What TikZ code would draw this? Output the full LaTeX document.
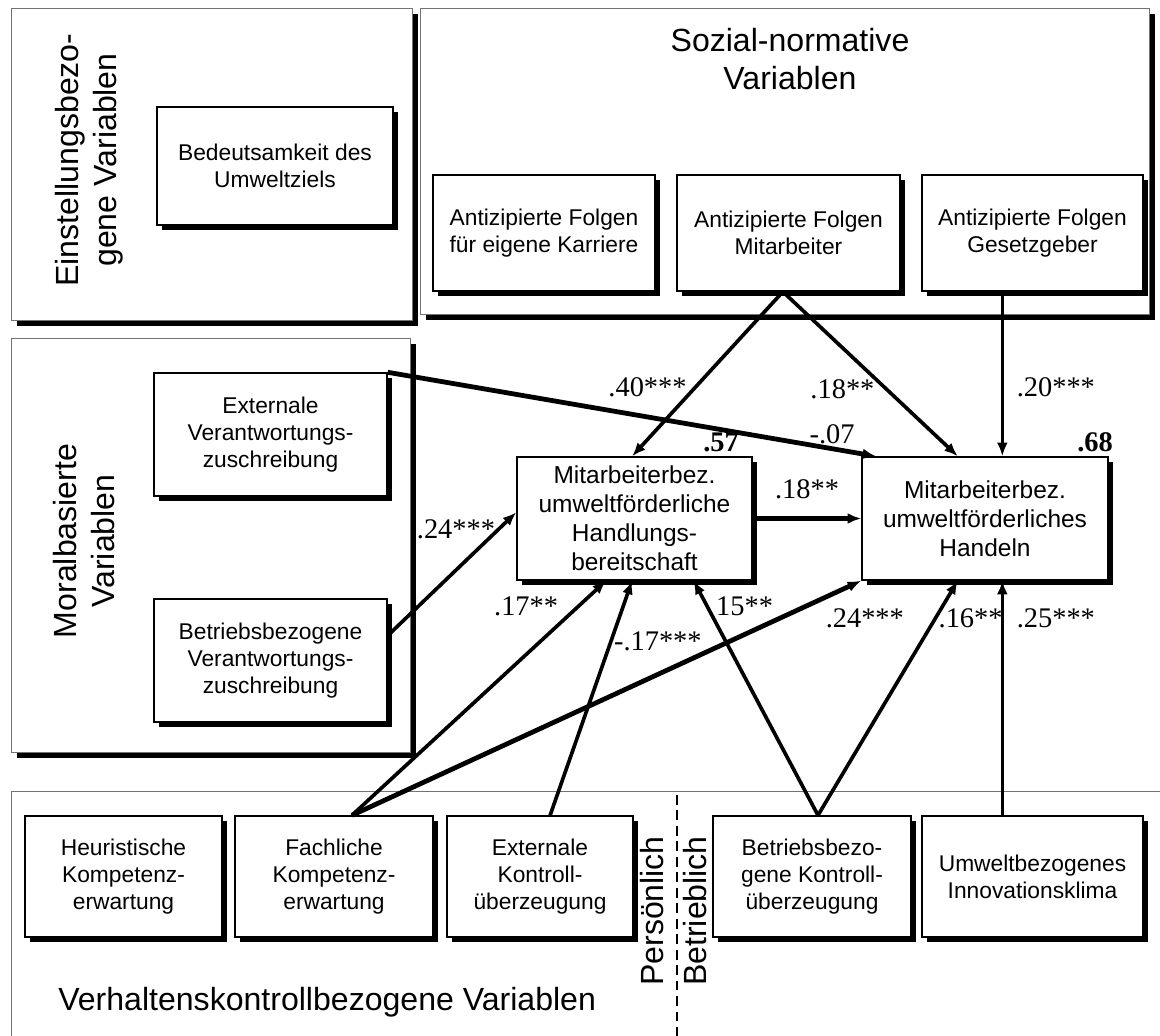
\documentclass[tikz,border=0pt]{standalone}
\usepackage{fontspec}
\setmainfont{Liberation Sans}
\newfontfamily\coeffont{Liberation Serif}
\usepackage{tikz}
\usetikzlibrary{arrows.meta, positioning, calc, shadows}

\begin{document}
\begin{tikzpicture}[
    x=0.025cm, y=-0.025cm,
    >=Latex,
    varframe/.style={
        draw=black!55, line width=0.7pt, fill=white,
        drop shadow={shadow xshift=1.4mm, shadow yshift=-1.4mm, fill=black, opacity=1}
    },
    grplabel/.style={
        font=\fontsize{22.8}{27}\selectfont, align=center, inner sep=0pt
    },
    var/.style={
        draw, line width=1pt, fill=white, inner sep=0pt, align=center,
        font=\fontsize{16.2}{19}\selectfont,
        drop shadow={shadow xshift=1.2mm, shadow yshift=-1.2mm, fill=black, opacity=1}
    },
    outcome/.style={
        var, minimum height=3.075cm,
        font=\fontsize{17.4}{20.6}\selectfont
    },
    effect/.style={
        line width=2.6pt,
        -{Latex[length=3.4mm,width=2.7mm]}
    },
    thickeffect/.style={effect, line width=3.4pt},
    coef/.style={font=\coeffont\fontsize{20.2}{22}\selectfont, inner sep=1pt},
    rsq/.style={font=\coeffont\bfseries\fontsize{20.2}{22}\selectfont, inner sep=1pt}
]

\useasboundingbox (0,0) rectangle (1160,1036);
\clip (0,0) rectangle (1160,1036);

% Variable groups
\draw[varframe] (11,8) rectangle (412,320);
\draw[varframe] (420,8) rectangle (1149,314);
\draw[varframe] (11,338) rectangle (410,752);
\draw[varframe] (11,791) rectangle (1200,1100);

\node[grplabel, rotate=90] (einstlbl) at (89,160) {Einstellungsbezo-\\gene Variablen};
\node[grplabel] (soziallbl) at (790,59) {Sozial-normative\\Variablen};
\node[grplabel, rotate=90] (morallbl) at (84,541) {Moralbasierte\\Variablen};
\node[grplabel, anchor=base west] (verhlbl) at (58,1010) {Verhaltenskontrollbezogene Variablen};
\node[grplabel, rotate=90] (perslbl) at (652,911) {Persönlich};
\node[grplabel, rotate=90] (betrlbl) at (695,911) {Betrieblich};
\draw[dash pattern=on 7pt off 4pt, line width=1pt] (677,795) -- (677,1036);

% Nodes
\node[var, minimum width=5.9cm, minimum height=2.95cm] (bed) at (275,166) {Bedeutsamkeit des\\Umweltziels};
\node[var, minimum width=5.55cm, minimum height=2.9cm] (kar) at (544,233) {Antizipierte Folgen\\für eigene Karriere};
\node[var, minimum width=5.575cm, minimum height=2.9cm] (mit) at (788.5,233) {Antizipierte Folgen\\Mitarbeiter};
\node[var, minimum width=5.525cm, minimum height=2.9cm] (ges) at (1032.5,233) {Antizipierte Folgen\\Gesetzgeber};

\node[var, minimum width=5.825cm, minimum height=3.075cm] (ext) at (270.5,434.5) {Externale\\Verantwortungs-\\zuschreibung};
\node[var, minimum width=5.825cm, minimum height=3.075cm] (bvz) at (270.5,660.5) {Betriebsbezogene\\Verantwortungs-\\zuschreibung};

\node[outcome, minimum width=5.875cm] (hb) at (634.5,518.5) {Mitarbeiterbez.\\umweltförderliche\\Handlungs-\\bereitschaft};
\node[outcome, minimum width=6.15cm] (hd) at (985,518.5) {Mitarbeiterbez.\\umweltförderliches\\Handeln};

\node[var, minimum width=4.925cm, minimum height=3.025cm] (heu) at (123.5,876.5) {Heuristische\\Kompetenz-\\erwartung};
\node[var, minimum width=4.95cm, minimum height=3.025cm] (fach) at (334,876.5) {Fachliche\\Kompetenz-\\erwartung};
\node[var, minimum width=4.65cm, minimum height=3.025cm] (extk) at (540,876.5) {Externale\\Kontroll-\\überzeugung};
\node[var, minimum width=4.95cm, minimum height=3.025cm] (bko) at (812,876.5) {Betriebsbezo-\\gene Kontroll-\\überzeugung};
\node[var, minimum width=5.525cm, minimum height=3.025cm] (umw) at (1032.5,876.5) {Umweltbezogenes\\Innovationsklima};

% Explained variance
\node[rsq] (rhb) at (721,442) {.57};
\node[rsq] (rhd) at (1095,442) {.68};

% Points on the box edges
\coordinate (mitS) at ($(mit.south west)!0.475!(mit.south east)$);
\coordinate (hdN) at ($(hd.north west)!0.57!(hd.north east)$);
\coordinate (hdS) at ($(hd.south west)!0.57!(hd.south east)$);
\coordinate (fachN) at ($(fach.north west)!0.59!(fach.north east)$);
\coordinate (bkoN) at ($(bko.north west)!0.53!(bko.north east)$);

% Social norms
\draw[effect] (mitS) -- node[coef, pos=.58, left=4pt] {.40***} ($(hb.north west)!0.49!(hb.north east)$);
\draw[effect] (mitS) -- node[coef, pos=.59, left=6pt] {.18**} ($(hd.north west)!0.39!(hd.north east)$);
\draw[effect] (ges.south -| hdN) -- node[coef, pos=.58, right=8pt] {.20***} (hdN);

% Moral variables
\draw[thickeffect] (ext.north east) -- node[coef, pos=.91, above=1pt] {-.07} ($(hd.north west)!0.06!(hd.north east)$);
\draw[effect] ($(bvz.north east)!0.3!(bvz.south east)$) -- node[coef, pos=.86, left=0pt] {.24***} ($(hb.north west)!0.45!(hb.south west)$);

% Intention -> behaviour
\draw[thickeffect] (hb.east) -- node[coef, midway, above=11pt] {.18**} (hd.west);

% Behavioural control
\draw[effect] (fachN) -- node[coef, pos=.89, left=12pt] {.17**} ($(hb.south west)!0.38!(hb.south east)$);
\draw[effect] ($(extk.north west)!0.554!(extk.north east)$) -- node[coef, pos=.74, right=0pt] {-.17***} ($(hb.south west)!0.49!(hb.south east)$);
\draw[effect] (bkoN) -- node[coef, pos=.89, right=4pt] {15**} ($(hb.south west)!0.75!(hb.south east)$);
\draw[thickeffect] (fachN) -- node[coef, pos=.915, below right=4pt] {.24***} (hd.south west);
\draw[effect] (bkoN) -- node[coef, pos=.84, right] {.16**} ($(hd.south west)!0.39!(hd.south east)$);
\draw[effect] (umw.north -| hdS) -- node[coef, pos=.84, right=8pt] {.25***} (hdS);

\end{tikzpicture}
\end{document}
